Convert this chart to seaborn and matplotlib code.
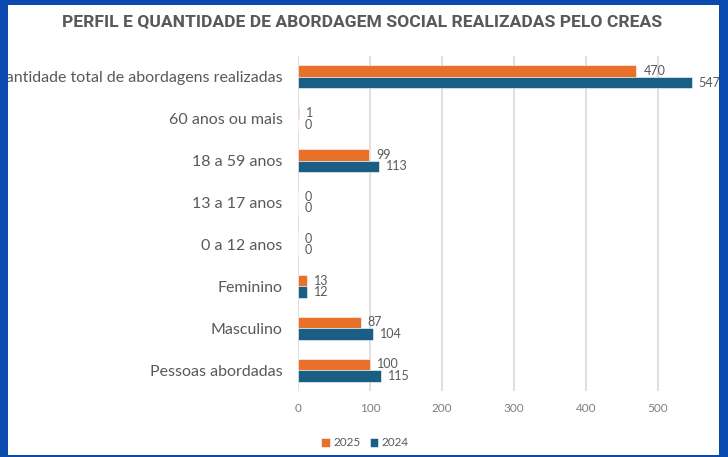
import matplotlib
matplotlib.use("Agg")
import matplotlib.pyplot as plt
from matplotlib.patches import Rectangle
import seaborn as sns
import pandas as pd

categorias = [
    "Quantidade total de abordagens realizadas",
    "60 anos ou mais",
    "18 a 59 anos",
    "13 a 17 anos",
    "0 a 12 anos",
    "Feminino",
    "Masculino",
    "Pessoas abordadas",
]
valores_2025 = [470, 1, 99, 0, 0, 13, 87, 100]
valores_2024 = [547, 0, 113, 0, 0, 12, 104, 115]
anos = ["2025", "2024"]
cores = {"2025": "#E8702A", "2024": "#1B5E84"}
azul_borda = "#0A4AAE"
cinza = "#595959"

df = pd.DataFrame({
    "categoria": categorias * 2,
    "ano": ["2025"] * len(categorias) + ["2024"] * len(categorias),
    "valor": valores_2025 + valores_2024,
})

sns.set_theme(style="white")
plt.rcParams["font.family"] = ["Lato", "DejaVu Sans"]

fig = plt.figure(figsize=(7.28, 4.57), dpi=100)
fig.patch.set_facecolor("white")

ax = fig.add_axes([298 / 728, 1 - 391 / 457, 432 / 728, 335 / 457])
sns.barplot(data=df, y="categoria", x="valor", hue="ano", hue_order=anos,
            order=categorias, palette=cores, orient="h", width=0.55,
            saturation=1, edgecolor="white", linewidth=0.4, ax=ax)

ax.set_xlim(0, 600)
ax.set_xticks(range(0, 600, 100))
ax.grid(axis="x", color="#d9d9d9", linewidth=1.2)
ax.set_axisbelow(True)
for s in ax.spines.values():
    s.set_visible(False)
ax.set_xlabel("")
ax.set_ylabel("")
ax.tick_params(axis="x", colors="#7f7f7f", labelsize=8.5, length=0, pad=9)
ax.tick_params(axis="y", colors=cinza, labelsize=11.5, length=0, pad=11)

for cont in ax.containers:
    ax.bar_label(cont, padding=5, fontsize=9, color=cinza)

leg = ax.legend(loc="center", bbox_to_anchor=(365 / 728, 14 / 457),
                bbox_transform=fig.transFigure, ncol=2, frameon=False,
                fontsize=8.5, handlelength=0.7, handleheight=0.7,
                handletextpad=0.3, columnspacing=0.8)
for t in leg.get_texts():
    t.set_color(cinza)

fig.text(362 / 728, 1 - 22 / 457,
         "PERFIL E QUANTIDADE DE ABORDAGEM SOCIAL REALIZADAS PELO CREAS",
         ha="center", va="center", fontsize=12.6, fontweight="bold",
         color=cinza, family=["Roboto", "DejaVu Sans"])

# moldura azul por cima de tudo
for (x0, y0, w, h) in [(0, 0, 8, 457), (719, 0, 9, 457), (0, 0, 728, 5), (0, 455, 728, 2)]:
    fig.add_artist(Rectangle((x0 / 728, 1 - (y0 + h) / 457), w / 728, h / 457,
                             transform=fig.transFigure, facecolor=azul_borda,
                             edgecolor="none", zorder=20))

fig.savefig("out.png", dpi=100)
